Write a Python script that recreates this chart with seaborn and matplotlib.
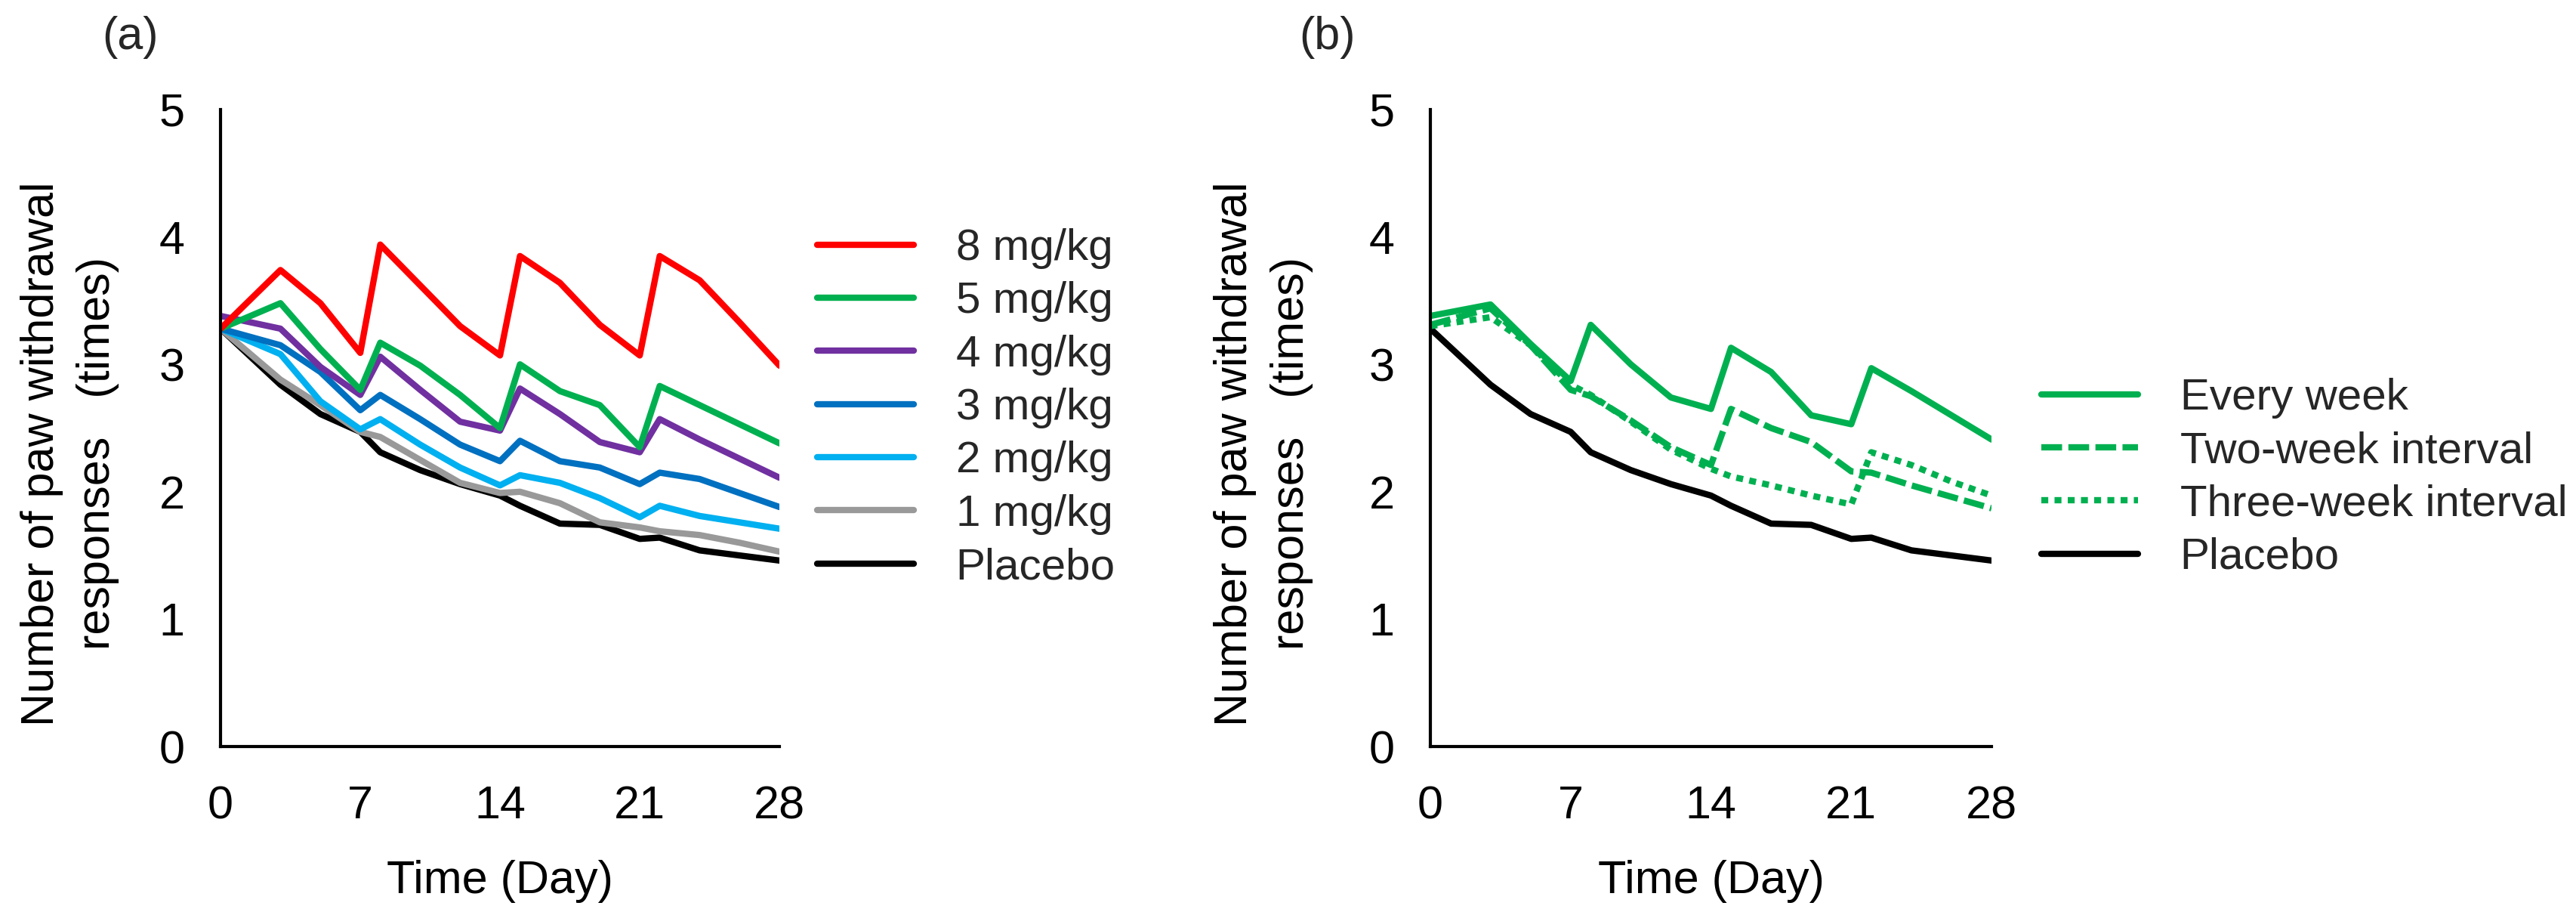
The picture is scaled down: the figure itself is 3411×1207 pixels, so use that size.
import matplotlib
matplotlib.use("Agg")
import matplotlib.pyplot as plt
import seaborn as sns

days = [0, 3, 5, 7, 8, 10, 12, 14, 15, 17, 19, 21, 22, 24, 26, 28]

# panel (a) - dose groups
dose_8 = [3.28, 3.74, 3.48, 3.09, 3.94, 3.62, 3.30, 3.07, 3.85, 3.64, 3.31, 3.07, 3.85, 3.66, 3.33, 2.99]
dose_5 = [3.28, 3.48, 3.12, 2.80, 3.17, 2.99, 2.76, 2.50, 3.00, 2.79, 2.68, 2.35, 2.83, 2.68, 2.53, 2.38]
dose_4 = [3.38, 3.28, 2.98, 2.76, 3.06, 2.80, 2.55, 2.48, 2.81, 2.61, 2.39, 2.31, 2.57, 2.41, 2.26, 2.11]
dose_3 = [3.28, 3.15, 2.94, 2.64, 2.76, 2.57, 2.37, 2.24, 2.40, 2.24, 2.19, 2.06, 2.15, 2.10, 1.99, 1.88]
dose_2 = [3.28, 3.08, 2.71, 2.49, 2.57, 2.37, 2.19, 2.05, 2.13, 2.07, 1.95, 1.80, 1.89, 1.81, 1.76, 1.71]
dose_1 = [3.28, 2.88, 2.68, 2.47, 2.43, 2.25, 2.07, 1.99, 2.00, 1.91, 1.76, 1.72, 1.69, 1.66, 1.60, 1.53]
placebo = [3.28, 2.84, 2.61, 2.47, 2.31, 2.17, 2.06, 1.97, 1.89, 1.75, 1.74, 1.63, 1.64, 1.54, 1.50, 1.46]

# panel (b) - dosing intervals
every_week = [3.38, 3.47, 3.16, 2.87, 3.31, 3.00, 2.74, 2.65, 3.13, 2.94, 2.60, 2.53, 2.97, 2.79, 2.60, 2.41]
two_week = [3.31, 3.44, 3.15, 2.80, 2.75, 2.56, 2.35, 2.21, 2.65, 2.50, 2.39, 2.16, 2.15, 2.05, 1.96, 1.87]
three_week = [3.30, 3.37, 3.15, 2.84, 2.76, 2.55, 2.33, 2.18, 2.12, 2.05, 1.97, 1.90, 2.31, 2.21, 2.08, 1.97]

labels_a = ["8 mg/kg", "5 mg/kg", "4 mg/kg", "3 mg/kg", "2 mg/kg", "1 mg/kg", "Placebo"]
series_a = [dose_8, dose_5, dose_4, dose_3, dose_2, dose_1, placebo]
colors_a = ["#FF0000", "#00B050", "#7030A0", "#0070C0", "#00B0F0", "#999999", "#000000"]

labels_b = ["Every week", "Two-week interval", "Three-week interval", "Placebo"]
series_b = [every_week, two_week, three_week, placebo]
colors_b = ["#00B050", "#00B050", "#00B050", "#000000"]
styles_b = ["-", (0, (3.3, 1.0)), (0, (1.1, 1.0)), "-"]

sns.set_style("white")
plt.rcParams["font.family"] = ["Liberation Sans", "DejaVu Sans"]

fig = plt.figure(figsize=(34.12, 12.07), dpi=100)
ax_a = fig.add_axes([0.0856, 0.1814, 0.2169, 0.6985])
ax_b = fig.add_axes([0.5551, 0.1814, 0.2178, 0.6985])

LW = 6
FS = 44

# draw from the bottom series up so the top doses sit on top
for name, vals, col in reversed(list(zip(labels_a, series_a, colors_a))):
    sns.lineplot(x=days, y=vals, color=col, lw=LW, label=name, ax=ax_a)

for name, vals, col, ls in reversed(list(zip(labels_b, series_b, colors_b, styles_b))):
    sns.lineplot(x=days, y=vals, color=col, lw=LW, linestyle=ls, label=name, ax=ax_b)

ylab = "Number of paw withdrawal\nresponses   (times)"
for ax, lx, order in [(ax_a, -0.2696, labels_a), (ax_b, -0.2977, labels_b)]:
    ax.set_xlim(0, 28)
    ax.set_ylim(0, 5)
    ax.set_xticks([0, 7, 14, 21, 28])
    ax.set_yticks([0, 1, 2, 3, 4, 5])
    sns.despine(ax=ax)
    for s in ["left", "bottom"]:
        ax.spines[s].set_linewidth(3)
        ax.spines[s].set_color("black")
    ax.tick_params(axis="both", direction="in", length=14, width=3, color="black",
                   labelsize=FS, labelcolor="black")
    ax.tick_params(axis="y", pad=34)
    ax.tick_params(axis="x", pad=37)
    ax.set_xlabel("Time (Day)", fontsize=FS, labelpad=30, color="black")
    ax.set_ylabel("")
    ax.text(lx, 0.46, ylab, transform=ax.transAxes, rotation=90, ha="center", va="center",
            multialignment="center", linespacing=1.4, fontsize=FS, color="black")
    handles, labels = ax.get_legend_handles_labels()
    hmap = dict(zip(labels, handles))
    ax.legend([hmap[l] for l in order], order, frameon=False, fontsize=42,
              loc="center left", borderpad=0, borderaxespad=0,
              handlelength=2.2, handletextpad=0.95, labelspacing=0.28,
              bbox_transform=fig.transFigure,
              bbox_to_anchor=(0.3171, 0.5526) if ax is ax_a else (0.7922, 0.476))

fig.text(0.0505, 0.9586, "(a)", fontsize=FS, ha="center", va="center")
fig.text(0.5150, 0.9586, "(b)", fontsize=FS, ha="center", va="center")

fig.savefig("out.png", dpi=100)
